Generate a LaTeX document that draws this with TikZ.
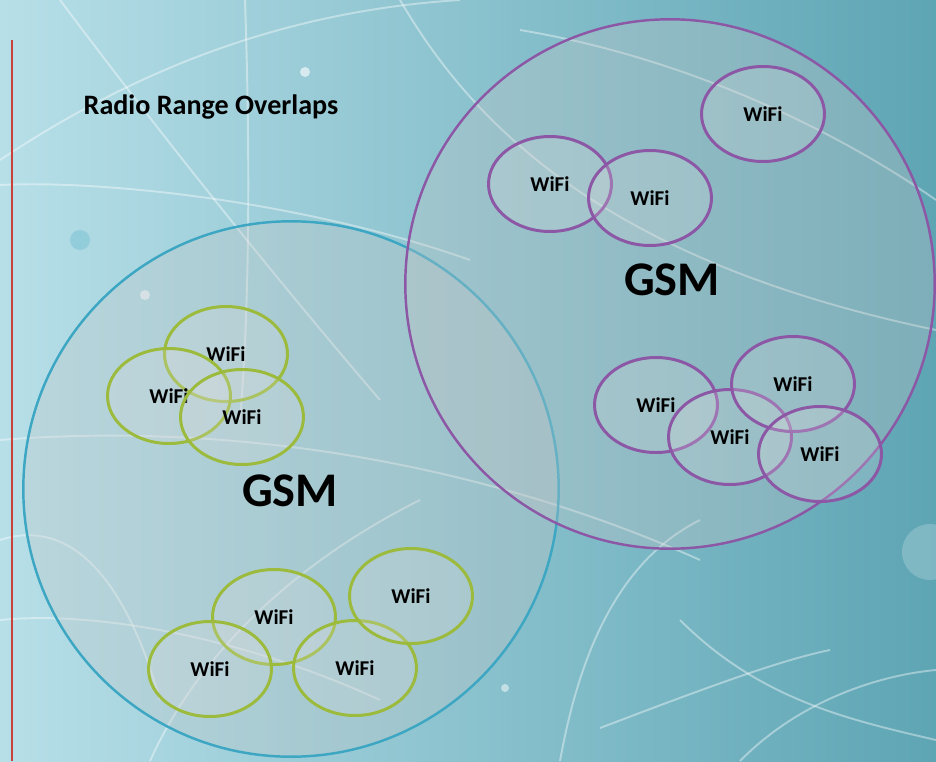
\documentclass[tikz,border=0pt]{standalone}
\usepackage{fontspec}
\setmainfont{Carlito}
\usetikzlibrary{shapes.geometric}
\definecolor{bgleft}{HTML}{B7DFE8}
\definecolor{bgright}{HTML}{5EA5B4}
\definecolor{gsmblue}{HTML}{3DA7C3}
\definecolor{gsmpurple}{HTML}{8C58A6}
\definecolor{wifigreen}{HTML}{9CBB3C}
\definecolor{rulered}{HTML}{C8423A}

\tikzset{
  bgline/.style={white, opacity=0.4, line width=1.1pt},
  gsmcell/.style={circle, line width=1.4pt, fill=gray!45!white, fill opacity=0.3, text opacity=1, inner sep=0pt},
  wificell/.style={ellipse, line width=1.7pt, fill=gray!25!white, fill opacity=0.22, text opacity=1,
    minimum width=2.46cm, minimum height=1.9cm, inner sep=0pt, font=\bfseries\fontsize{12}{14}\selectfont},
  gsmlabel/.style={font=\bfseries\fontsize{27.5}{30}\selectfont},
}

\begin{document}
\begin{tikzpicture}[x=0.02cm, y=-0.02cm]

% Background
\useasboundingbox (0,0) rectangle (936,761);
\shade[left color=bgleft, right color=bgright] (0,0) rectangle (936,761);
\begin{scope}
\clip (0,0) rectangle (936,761);
\draw[bgline] (0,160) .. controls (150,60) and (300,10) .. (460,0);
\draw[bgline] (60,0) .. controls (150,120) and (260,260) .. (380,400);
\draw[bgline] (0,440) .. controls (250,420) and (500,470) .. (700,560);
\draw[bgline] (400,0) .. controls (470,120) and (600,260) .. (936,330);
\draw[bgline] (520,30) .. controls (700,60) and (850,140) .. (936,200);
\draw[bgline] (600,728) .. controls (700,690) and (780,660) .. (830,650);
\draw[bgline] (680,620) .. controls (760,700) and (850,720) .. (936,740);
\draw[bgline] (740,761) .. controls (800,700) and (880,675) .. (936,670);
\draw[bgline] (0,185) .. controls (100,180) and (300,200) .. (470,260);
\draw[bgline] (0,620) .. controls (100,610) and (250,640) .. (380,700);
\draw[bgline] (560,761) .. controls (580,650) and (620,560) .. (700,520);
\draw[bgline] (150,761) .. controls (200,650) and (300,560) .. (420,500);
\draw[bgline] (0,540) .. controls (60,520) and (120,560) .. (160,700);
\draw[bgline] (245,0) .. controls (250,150) and (250,300) .. (240,420);
\fill[white, opacity=0.6] (305,72) circle (5);
\fill[white, opacity=0.6] (145,295) circle (5);
\fill[white, opacity=0.5] (505,688) circle (4);
\fill[white, opacity=0.2] (930,552) circle (28);
\fill[gsmblue, opacity=0.25] (80,240) circle (10);
\end{scope}

% Left rule and title
\draw[rulered, line width=1.5pt] (12,40) -- (12,761);
\node[font=\bfseries\fontsize{16}{18}\selectfont] (title) at (211,107) {Radio Range Overlaps};

% GSM cells
\node[gsmcell, draw=gsmblue, minimum size=10.71cm] (gsmL) at (291,489) {};
\node[gsmcell, draw=gsmpurple, minimum size=10.59cm] (gsmR) at (670,284) {};

% WiFi hotspots inside the left cell
\foreach \n/\x/\y in {wL1/226/354, wL2/169/396, wL3/242/417,
                      wL4/274/617, wL5/210/669, wL6/355/668, wL7/411/596}{
  \node[wificell, draw=wifigreen] (\n) at (\x,\y) {WiFi};
}

% WiFi hotspots inside the right cell
\foreach \n/\x/\y in {wR1/550/184, wR2/650/198, wR3/763/114,
                      wR4/656/405, wR5/730/437, wR6/793/384, wR7/820/454}{
  \node[wificell, draw=gsmpurple] (\n) at (\x,\y) {WiFi};
}

\node[gsmlabel] (gsmLtext) at (290,491) {GSM};
\node[gsmlabel] (gsmRtext) at (672,280) {GSM};

\end{tikzpicture}
\end{document}
